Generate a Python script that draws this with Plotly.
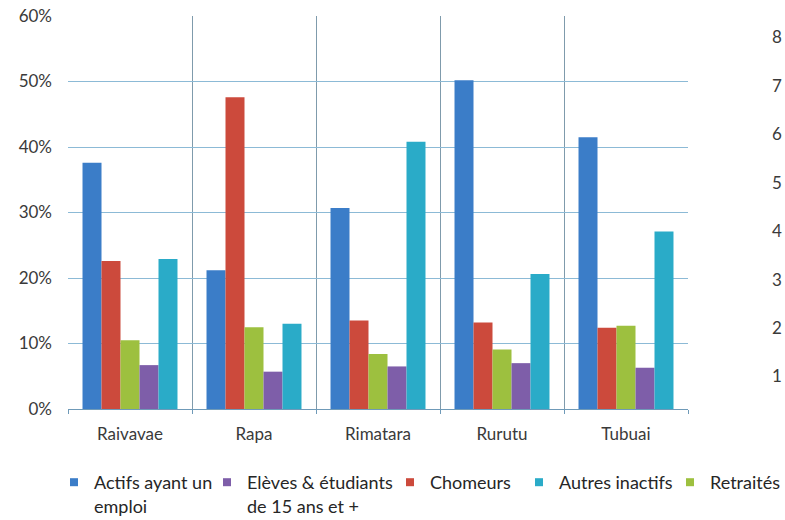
import plotly.graph_objects as go

islands = ["Raivavae", "Rapa", "Rimatara", "Rurutu", "Tubuai"]
actifs = [37.6, 21.2, 30.7, 50.2, 41.5]
chomeurs = [22.6, 47.6, 13.5, 13.2, 12.4]
retraites = [10.5, 12.5, 8.4, 9.1, 12.7]
eleves = [6.7, 5.7, 6.5, 7.0, 6.3]
autres = [22.9, 13.0, 40.8, 20.6, 27.1]

y_ticks = [0, 10, 20, 30, 40, 50, 60]
y_tick_labels = ["0%", "10%", "20%", "30%", "40%", "50%", "60%"]
right_labels = ["8", "7", "6", "5", "4", "3", "2", "1"]

FONT = "Lato"
TXT = "#3a3a3a"

# (name, values, color, legend id)
series = [
    ("Actifs ayant un<br>emploi", actifs, "#3b7dc8", "legend"),
    ("Chomeurs", chomeurs, "#cc4a3c", "legend3"),
    ("Retraités", retraites, "#9dc03f", "legend5"),
    ("Elèves & étudiants<br>de 15 ans et +", eleves, "#7e5ea9", "legend2"),
    ("Autres inactifs", autres, "#2aabc8", "legend4"),
]

fig = go.Figure()
for name, vals, color, lg in series:
    fig.add_trace(go.Bar(x=islands, y=vals, name=name, marker=dict(color=color, line=dict(width=0)),
                         showlegend=False))
    # legend-only marker (small square)
    fig.add_trace(go.Scatter(x=[None], y=[None], mode="markers", name=name, legend=lg,
                             marker=dict(symbol="square", size=8, color=color)))

L, R, T, B = 68, 97, 16, 111
W, H = 785 - L - R, 520 - T - B
text_px = [92, 245, 428, 557, 708]   # legend text left edges
legends = {}
order = ["legend", "legend2", "legend3", "legend4", "legend5"]
for i, lg in enumerate(order):
    legends[lg] = dict(
        x=(text_px[i] - 38 - L) / W, xanchor="left",
        y=-(464 - (T + H)) / H, yanchor="top",
        orientation="h", valign="top", bgcolor="rgba(0,0,0,0)",
        font=dict(family=FONT, size=18, color="#262626"),
        itemwidth=30, tracegroupgap=0,
    )

fig.update_layout(
    width=785, height=520,
    margin=dict(l=L, r=R, t=T, b=B, autoexpand=False),
    paper_bgcolor="white", plot_bgcolor="white",
    barmode="group", bargap=0.234, bargroupgap=0,
    font=dict(family=FONT, size=16, color=TXT),
    showlegend=True,
    **legends,
)

fig.update_xaxes(
    type="category", tickson="boundaries", showgrid=True, gridcolor="#7f9bac", gridwidth=1,
    showline=True, linecolor="#6f9ab8", linewidth=1,
    ticks="outside", ticklen=4, tickcolor="#6f9ab8",
    tickfont=dict(family=FONT, size=17, color=TXT), ticklabelstandoff=10,
    zeroline=False, automargin=False,
)
fig.update_yaxes(
    range=[0, 60], tickvals=y_ticks, ticktext=y_tick_labels,
    showgrid=True, gridcolor="#8cbad6", gridwidth=1,
    zeroline=False, showline=False, automargin=False,
    tickfont=dict(family=FONT, size=17, color=TXT), ticklabelstandoff=15,
)

# neighbouring chart's axis labels visible at the right edge
for i, t in enumerate(right_labels):
    ypx = 37 + i * 48.4
    fig.add_annotation(text=t, xref="paper", yref="paper",
                       x=(784 - L) / W, y=(T + H - ypx) / H,
                       xanchor="right", yanchor="middle", showarrow=False,
                       font=dict(family=FONT, size=17, color=TXT))

fig.write_html("out.html", config={"displayModeBar": False},
               post_script="document.body.style.margin='0';")
